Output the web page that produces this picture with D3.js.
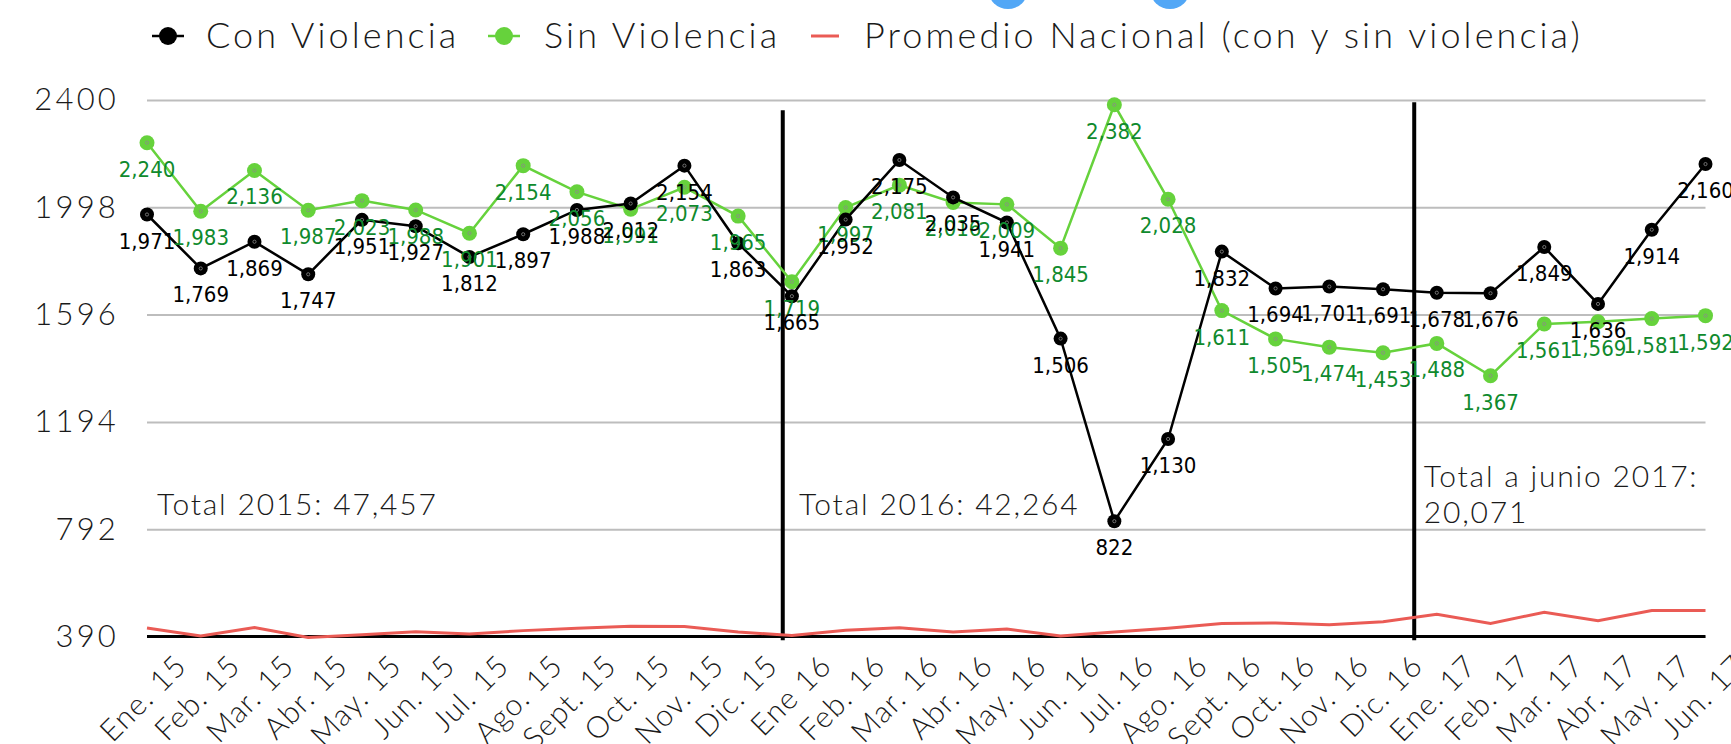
<!DOCTYPE html>
<html>
<head>
<meta charset="utf-8">
<script src="https://cdn.jsdelivr.net/npm/d3@7"></script>
<style>
  html, body { margin: 0; padding: 0; background: #fff; }
  svg { display: block; }
  .thin { font-family: "Lato", "Open Sans", sans-serif; font-weight: 300; fill: #1a1a1a; }
  .dl { font-family: "Liberation Sans Narrow", "DejaVu Sans Condensed", "Liberation Sans", sans-serif; }
</style>
</head>
<body>
<svg id="chart" width="1731" height="744"></svg>
<script>
// ---------- data ----------
const months = ["Ene. 15","Feb. 15","Mar. 15","Abr. 15","May. 15","Jun. 15","Jul. 15","Ago. 15","Sept. 15","Oct. 15","Nov. 15","Dic. 15",
                "Ene 16","Feb. 16","Mar. 16","Abr. 16","May. 16","Jun. 16","Jul. 16","Ago. 16","Sept. 16","Oct. 16","Nov. 16","Dic. 16",
                "Ene. 17","Feb. 17","Mar. 17","Abr. 17","May. 17","Jun. 17"];
const conViolencia = [1971,1769,1869,1747,1951,1927,1812,1897,1988,2012,2154,1863,
                      1665,1952,2175,2035,1941,1506,822,1130,1832,1694,1701,1691,
                      1678,1676,1849,1636,1914,2160];
const sinViolencia = [2240,1983,2136,1987,2023,1988,1901,2154,2056,1991,2073,1965,
                      1719,1997,2081,2016,2009,1845,2382,2028,1611,1505,1474,1453,
                      1488,1367,1561,1569,1581,1592];
const promedioNacional = [422,392,424,386,397,408,399,412,421,428,427,407,
                          394,413,423,407,418,392,407,421,439,441,434,445,
                          473,439,481,449,487,487];
const yTicks = [390,792,1194,1596,1998,2400];
const seriesNames = ["Con Violencia","Sin Violencia","Promedio Nacional (con y sin violencia)"];
const totals = [
  {lines:["Total 2015: 47,457"], at:"Ene. 15"},
  {lines:["Total 2016: 42,264"], at:"Ene 16"},
  {lines:["Total a junio 2017:","20,071"], at:"Ene. 17"}
];
const dividers = [{after:"Dic. 15", top:2362}, {after:"Dic. 16", top:2392}];

// ---------- layout ----------
const svg = d3.select("#chart");
const W = 1731, H = 744;
const mLeft = 147, mRight = 1705.5, mTop = 100, mBottom = 636.5;
const x = d3.scalePoint().domain(months).range([mLeft, mRight]);
const y = d3.scaleLinear().domain([390, 2400]).range([mBottom, mTop]);
const step = x.step();

svg.append("rect").attr("width", W).attr("height", H).attr("fill", "#fff");

// decorative blue circles at top (cropped)
svg.selectAll("circle.deco").data([1008, 1170]).enter().append("circle")
  .attr("class","deco").attr("cx", d => d).attr("cy", -11).attr("r", 20).attr("fill", "#52a7f6");

// y axis with gridlines
const yAxis = d3.axisLeft(y).tickValues(yTicks).tickSize(-(mRight - mLeft)).tickPadding(28).tickFormat(d3.format("d"));
const gy = svg.append("g").attr("transform", `translate(${mLeft},0)`).call(yAxis);
gy.select(".domain").remove();
gy.selectAll(".tick line").attr("stroke", "#bdbdbd").attr("stroke-width", 2);
gy.selectAll(".tick text").attr("class", "thin").attr("font-size", 31).attr("fill", "#1a1a1a")
  .attr("letter-spacing", 3.2);

// baseline
svg.append("line").attr("x1", mLeft).attr("x2", mRight).attr("y1", y(390)).attr("y2", y(390))
  .attr("stroke", "#000").attr("stroke-width", 3);

// x axis
const xAxis = d3.axisBottom(x).tickSize(0).tickPadding(0);
const gx = svg.append("g").attr("transform", `translate(0,${y(390)})`).call(xAxis);
gx.select(".domain").remove();
gx.selectAll(".tick text")
  .attr("class", "thin").attr("font-size", 30).attr("fill", "#1a1a1a")
  .attr("letter-spacing", 1.2)
  .attr("text-anchor", "end").attr("dy", 0).attr("y", 0)
  .attr("transform", "translate(41,31) rotate(-45)");

// dividers
const divX = (d, i) => x(d.after) + step * (i === 0 ? 0.83 : 0.58);
svg.selectAll("line.div").data(dividers).enter().append("line")
  .attr("x1", divX).attr("x2", divX)
  .attr("y1", d => y(d.top)).attr("y2", y(376))
  .attr("stroke", "#000").attr("stroke-width", 4);

// totals
totals.forEach((t, i) => {
  const offs = [10, 7, -13][i];
  const base = i === 2 ? 487 : 515;
  const txt = svg.append("text").attr("class", "thin").attr("font-size", 30)
    .attr("letter-spacing", 1.8)
    .attr("x", x(t.at) + offs).attr("y", base);
  t.lines.forEach((ln, j) => txt.append("tspan").attr("x", x(t.at) + offs).attr("dy", j === 0 ? 0 : 36).text(ln));
});

// red line
const line = d3.line().x((d, i) => x(months[i])).y(d => y(d));
svg.append("path").datum(promedioNacional).attr("d", line)
  .attr("fill", "none").attr("stroke", "#ea5b55").attr("stroke-width", 3);

// series lines + markers
function drawSeries(vals, lineColor, markerColor, r) {
  svg.append("path").datum(vals).attr("d", line)
    .attr("fill", "none").attr("stroke", lineColor).attr("stroke-width", 2.5);
  const g = svg.append("g");
  g.selectAll("circle.m").data(vals).enter().append("circle")
    .attr("cx", (d, i) => x(months[i])).attr("cy", d => y(d)).attr("r", r).attr("fill", markerColor);
  g.selectAll("circle.c").data(vals).enter().append("circle")
    .attr("cx", (d, i) => x(months[i])).attr("cy", d => y(d)).attr("r", 1.6)
    .attr("fill", "none").attr("stroke", "#8a8a8a").attr("stroke-width", 0.8);
}
drawSeries(sinViolencia, "#66d23c", "#66d23c", 7.5);
drawSeries(conViolencia, "#000", "#000", 7);

// data labels (centered below each point)
const fmt = d3.format(",");
function drawLabels(vals, color) {
  svg.append("g").selectAll("text").data(vals).enter().append("text")
    .attr("class", "dl").attr("font-size", 22).attr("fill", color)
    .attr("x", (d, i) => x(months[i]))
    .attr("y", d => y(d) + 34)
    .attr("text-anchor", "middle")
    .text(d => fmt(d));
}
drawLabels(sinViolencia, "#0f8a2d");
drawLabels(conViolencia, "#000");

// legend
const lg = svg.append("g");
const legendItems = [
  {name: seriesNames[0], cx: 168, color: "#000", marker: true, tx: 206},
  {name: seriesNames[1], cx: 504, color: "#66d23c", marker: true, tx: 544},
  {name: seriesNames[2], cx: 825, color: "#ea5b55", marker: false, tx: 864}
];
legendItems.forEach(it => {
  const ly = 36;
  if (it.marker) {
    lg.append("line").attr("x1", it.cx - 16).attr("x2", it.cx + 16).attr("y1", ly).attr("y2", ly)
      .attr("stroke", it.color).attr("stroke-width", 2.5);
    lg.append("circle").attr("cx", it.cx).attr("cy", ly).attr("r", 9).attr("fill", it.color);
  } else {
    lg.append("line").attr("x1", it.cx - 14).attr("x2", it.cx + 14).attr("y1", ly).attr("y2", ly)
      .attr("stroke", it.color).attr("stroke-width", 3);
  }
  lg.append("text").attr("class", "thin").attr("font-size", 36).attr("letter-spacing", 3.1)
    .attr("x", it.tx).attr("y", ly + 12).text(it.name);
});
</script>
</body>
</html>
